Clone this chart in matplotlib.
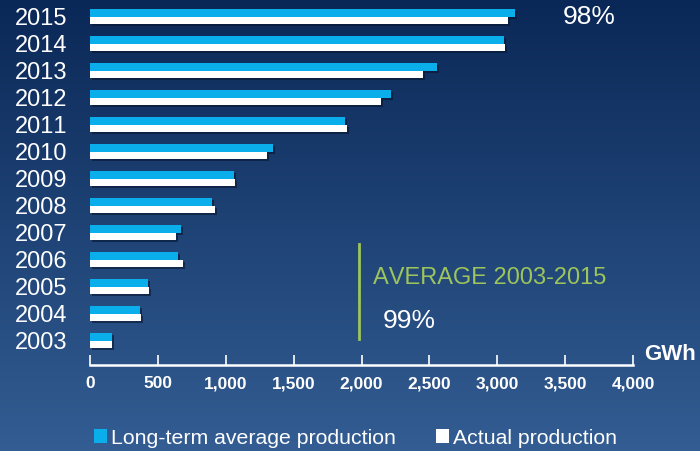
import numpy as np
import matplotlib
matplotlib.use('Agg')
import matplotlib.pyplot as plt
import matplotlib.patheffects as pe
from matplotlib.patches import Patch
from matplotlib.lines import Line2D

plt.rcParams['font.family'] = ['Liberation Sans', 'DejaVu Sans']
plt.rcParams['text.kerning_factor'] = 10  # keep digits evenly spaced ("2011")

# data (GWh)
years = ['2003', '2004', '2005', '2006', '2007', '2008', '2009',
         '2010', '2011', '2012', '2013', '2014', '2015']
long_term = [161, 367, 426, 646, 669, 899, 1061, 1348, 1878, 2220, 2556, 3050, 3131]
actual = [164, 377, 433, 685, 636, 921, 1068, 1304, 1893, 2144, 2453, 3057, 3079]
xticks = [0, 500, 1000, 1500, 2000, 2500, 3000, 3500, 4000]

blue = '#0aaeea'
green = '#9dc55b'

fig = plt.figure(figsize=(7, 4.51), dpi=100)

# gradient background
bg = fig.add_axes([0, 0, 1, 1])
grad = np.linspace(0, 1, 256).reshape(-1, 1)
top = np.array([0x0a, 0x28, 0x57]) / 255
bot = np.array([0x33, 0x5d, 0x93]) / 255
img = top + grad[..., None] * (bot - top)
bg.imshow(img.reshape(256, 1, 3), aspect='auto', extent=[0, 1, 0, 1])
bg.axis('off')

ax = fig.add_axes([90 / 700, 86 / 451, 543 / 700, 365 / 451])
ax.patch.set_alpha(0)

y = np.arange(len(years))
h = 0.278
shadow = [pe.SimplePatchShadow(offset=(1.5, -1.5), shadow_rgbFace='#061530', alpha=0.6), pe.Normal()]
b1 = ax.barh(y + h / 2, long_term, height=h, color=blue, label='Long-term average production')
b2 = ax.barh(y - h / 2, actual, height=h, color='white', label='Actual production')
for b in list(b1) + list(b2):
    b.set_path_effects(shadow)

ax.set_xlim(0, 4000)
ax.set_ylim(-0.896, 12.622)

for s in ['top', 'right', 'left']:
    ax.spines[s].set_visible(False)
ax.spines['bottom'].set_color('white')
ax.spines['bottom'].set_linewidth(1.8)

ax.set_xticks(xticks)
ax.set_xticklabels([f'{v:,}' for v in xticks], fontsize=12.5, fontweight='bold', color='white')
ax.tick_params(axis='x', direction='in', length=7, width=1.2, color='white', pad=8)
ax.set_yticks(y)
ax.set_yticklabels(years, fontsize=17, color='white')
ax.tick_params(axis='y', length=0, pad=16)

fig.text(644 / 700, 1 - 355 / 451, 'GWh', color='white', fontsize=16, fontweight='bold', va='center', ha='left')
fig.text(563 / 700, 1 - 17 / 451, '98%', color='white', fontsize=19, va='center', ha='left')
fig.text(373 / 700, 1 - 278 / 451, 'AVERAGE 2003-2015', color=green, fontsize=17, va='center', ha='left')
fig.text(383 / 700, 1 - 321 / 451, '99%', color='white', fontsize=19, va='center', ha='left')
fig.add_artist(Line2D([359 / 700, 359 / 700], [1 - 244 / 451, 1 - 339 / 451], color=green, lw=2))

handles = [Patch(facecolor=blue, label='Long-term average production'),
           Patch(facecolor='white', label='Actual production')]
fig.legend(handles=handles, loc='center', bbox_to_anchor=(0.508, 1 - 438 / 451), ncol=2,
           frameon=False, fontsize=15.3, labelcolor='white', handlelength=0.6, handleheight=0.6,
           handletextpad=0.2, columnspacing=1.9, borderaxespad=0, borderpad=0)

fig.savefig('out.png', dpi=100)
